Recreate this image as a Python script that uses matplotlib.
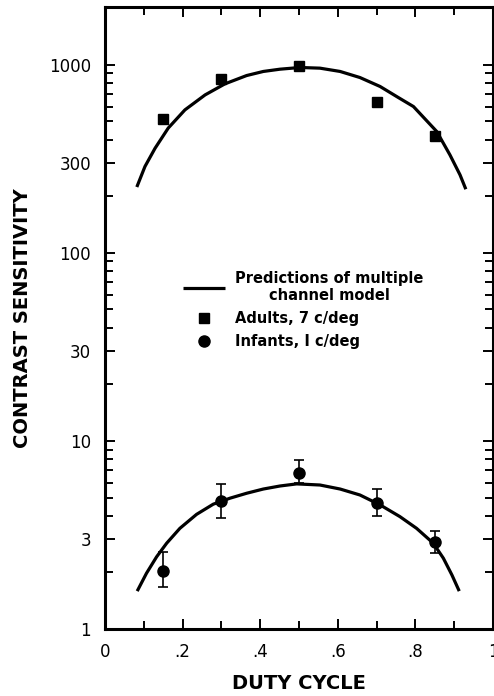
import matplotlib
matplotlib.use('Agg')
import matplotlib.pyplot as plt
from matplotlib.ticker import FixedLocator, FixedFormatter, NullFormatter

# ---- data ----
duty = [0.15, 0.30, 0.50, 0.70, 0.85]
adults = [514, 845, 985, 638, 419]
infants = [2.04, 4.80, 6.73, 4.70, 2.91]
infants_hi = [2.58, 5.89, 7.93, 5.55, 3.33]
infants_lo = [1.68, 3.88, 5.96, 4.00, 2.53]

model_adult_x = [0.082, 0.103, 0.129, 0.163, 0.206, 0.258, 0.309, 0.365, 0.408,
                 0.451, 0.503, 0.554, 0.606, 0.657, 0.709, 0.756, 0.795, 0.855,
                 0.889, 0.915, 0.930]
model_adult_y = [224, 288, 360, 461, 576, 692, 792, 877, 922,
                 948, 968, 960, 922, 856, 767, 670, 600, 442,
                 332, 260, 218]

model_infant_x = [0.083, 0.107, 0.133, 0.159, 0.193, 0.236, 0.279, 0.322, 0.365,
                  0.408, 0.451, 0.494, 0.554, 0.606, 0.657, 0.709, 0.760, 0.803,
                  0.846, 0.872, 0.894, 0.913]
model_infant_y = [1.59, 1.98, 2.42, 2.86, 3.43, 4.07, 4.61, 4.96, 5.27,
                  5.55, 5.76, 5.91, 5.83, 5.55, 5.16, 4.57, 3.96, 3.43,
                  2.86, 2.38, 1.94, 1.59]

x_major = [0, 0.2, 0.4, 0.6, 0.8, 1.0]
x_major_labels = ['0', '.2', '.4', '.6', '.8', '1']
x_minor = [0.1, 0.3, 0.5, 0.7, 0.9]
y_major = [1, 3, 10, 30, 100, 300, 1000]
y_major_labels = ['1', '3', '10', '30', '100', '300', '1000']
y_minor = [m * d for d in (1, 10, 100, 1000) for m in (2, 4, 5, 6, 7, 8, 9) if m * d < 2000]

legend_labels = ['Predictions of multiple\nchannel model', 'Adults, 7 c/deg', 'Infants, I c/deg']

# ---- figure ----
fig = plt.figure(figsize=(4.94, 6.96), dpi=100)
ax = fig.add_axes([105 / 494, 1 - 629 / 696, (493 - 105) / 494, (629 - 7) / 696])

ax.set_yscale('log')
ax.set_xlim(0, 1)
ax.set_ylim(1, 2030)

line_m, = ax.plot(model_adult_x, model_adult_y, color='black', lw=2.3,
                  solid_capstyle='butt', solid_joinstyle='round')
ax.plot(model_infant_x, model_infant_y, color='black', lw=2.3,
        solid_capstyle='butt', solid_joinstyle='round')

sq, = ax.plot(duty, adults, linestyle='none', marker='s', markersize=7.5, color='black')
yerr = [[v - lo for v, lo in zip(infants, infants_lo)],
        [hi - v for v, hi in zip(infants, infants_hi)]]
ax.errorbar(duty, infants, yerr=yerr, fmt='none', ecolor='black', elinewidth=1.2,
            capsize=3.5, capthick=1.2)
ci, = ax.plot(duty, infants, linestyle='none', marker='o', markersize=8, color='black')

for s in ax.spines.values():
    s.set_linewidth(2.2)

ax.xaxis.set_major_locator(FixedLocator(x_major))
ax.xaxis.set_major_formatter(FixedFormatter(x_major_labels))
ax.xaxis.set_minor_locator(FixedLocator(x_minor))
ax.xaxis.set_minor_formatter(NullFormatter())
ax.yaxis.set_major_locator(FixedLocator(y_major))
ax.yaxis.set_major_formatter(FixedFormatter(y_major_labels))
ax.yaxis.set_minor_locator(FixedLocator(y_minor))
ax.yaxis.set_minor_formatter(NullFormatter())

ax.tick_params(which='both', direction='in', top=True, right=True, width=1.4,
               length=7, labelsize=12, pad=10)
ax.tick_params(which='minor', length=6)

ax.set_xlabel('DUTY CYCLE', fontsize=14, fontweight='bold', labelpad=9.5)
ax.set_ylabel('CONTRAST SENSITIVITY', fontsize=14, fontweight='bold', labelpad=12)

leg = ax.legend([line_m, sq, ci], legend_labels, loc='upper left',
                bbox_to_anchor=((183 - 105) / 388, (629 - 271) / 622),
                frameon=False, borderpad=0, borderaxespad=0,
                handlelength=2.9, handletextpad=0.65, labelspacing=0.55,
                prop={'weight': 'bold', 'size': 10.5})
for t in leg.get_texts():
    t.set_multialignment('center')

fig.savefig('out.png', dpi=100)
